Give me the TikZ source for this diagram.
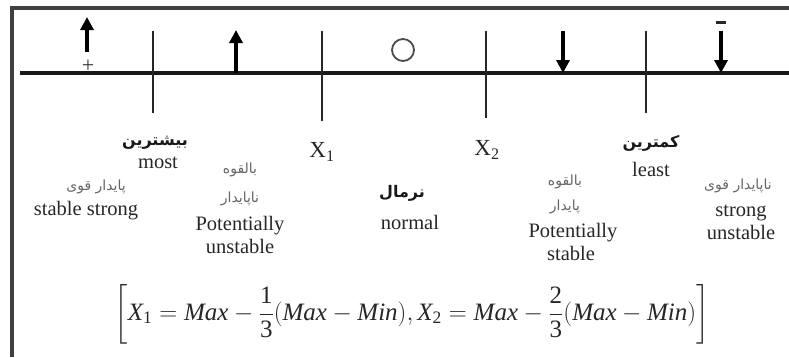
\documentclass[tikz,border=0pt]{standalone}
\usepackage{amsmath}
\usepackage{fontspec}
\setmainfont{Liberation Serif}
\newfontfamily\fa[Script=Arabic]{DejaVu Sans}
\TeXXeTstate=1
\usetikzlibrary{arrows.meta}
\newcommand{\ti}[1]{\text{\itshape #1}}
\newcommand{\tr}[1]{\text{\upshape #1}}
\begin{document}
\begin{tikzpicture}[x=1pt,y=-1pt,
 en/.style={font=\fontsize{20.5}{20.5}\selectfont, text=black!85, inner sep=0pt},
 fa/.style={font=\fa\fontsize{14}{14}\selectfont, text=black!60, inner sep=0pt},
 fab/.style={font=\fa\bfseries\fontsize{16}{16}\selectfont, text=black!90, inner sep=0pt},
 xlab/.style={font=\fontsize{23}{23}\selectfont, text=black!85, inner sep=0pt},
 tickline/.style={line width=2.3pt, draw=black!85},
 arr/.style={line width=3.4pt, draw=black, -{Triangle[length=13pt,width=13pt]}},
]
\useasboundingbox (0,0) rectangle (789,357);
% frame
\coordinate (fTR) at (789,8);
\coordinate (fTL) at (12,8);
\coordinate (fBL) at (12,357);
\draw[line width=3.2pt, black!75] (fTR) -- (fTL) -- (fBL);
% axis
\coordinate (axL) at (20,73);
\coordinate (axR) at (789,73);
\draw[line width=3.4pt, black!90] (axL) -- (axR);
% ticks
\coordinate (t1a) at (153,31); \coordinate (t1b) at (153,113);
\coordinate (t2a) at (322,31); \coordinate (t2b) at (322,121);
\coordinate (t3a) at (486,31); \coordinate (t3b) at (486,118);
\coordinate (t4a) at (646,31); \coordinate (t4b) at (646,113);
\draw[tickline] (t1a) -- (t1b);
\draw[tickline] (t2a) -- (t2b);
\draw[tickline] (t3a) -- (t3b);
\draw[tickline] (t4a) -- (t4b);
% arrows
\coordinate (a1s) at (87,52); \coordinate (a1e) at (87,17);
\coordinate (a2s) at (236,73); \coordinate (a2e) at (236,30);
\coordinate (a3s) at (563,31); \coordinate (a3e) at (563,73);
\coordinate (a4s) at (721,31); \coordinate (a4e) at (721,73);
\draw[arr] (a1s) -- (a1e);
\draw[arr] (a2s) -- (a2e);
\draw[arr] (a3s) -- (a3e);
\draw[arr] (a4s) -- (a4e);
\node[font=\fontsize{22}{22}\selectfont, text=black!80, inner sep=0pt] (plus) at (88,66) {+};
\coordinate (mL) at (716,22); \coordinate (mR) at (726,22);
\draw[line width=3pt, black!85] (mL) -- (mR);
\node[circle, draw=black!70, line width=1.8pt, minimum size=22pt, inner sep=0pt] (circ) at (403,50) {};
% labels
\node[fab] (most-fa) at (155,143) {\beginR بیشترین\endR};
\node[en] (most) at (158,163) {most};
\node[fa] (ss-fa) at (96,187) {\beginR پایدار قوی\endR};
\node[en] (ss) at (86,211) {stable strong};
\node[fa] (pu-fa1) at (240,170) {\beginR بالقوه\endR};
\node[fa] (pu-fa2) at (240,199) {\beginR ناپایدار\endR};
\node[en] (pu1) at (240,226) {Potentially};
\node[en] (pu2) at (240,246) {unstable};
\node[xlab] (x1) at (322,152) {X\textsubscript{1}};
\node[fab] (nr-fa) at (402,193) {\beginR نرمال\endR};
\node[en] (nr) at (410,222) {normal};
\node[xlab] (x2) at (487,150) {X\textsubscript{2}};
\node[fa] (ps-fa1) at (565,182) {\beginR بالقوه\endR};
\node[fa] (ps-fa2) at (565,207) {\beginR پایدار\endR};
\node[en] (ps1) at (573,233) {Potentially};
\node[en] (ps2) at (571,253) {stable};
\node[fab] (least-fa) at (651,143) {\beginR کمترین\endR};
\node[en] (least) at (651,169) {least};
\node[fa] (su-fa) at (738,186) {\beginR ناپایدار قوی\endR};
\node[en] (su1) at (741,213) {strong};
\node[en] (su2) at (741,232) {unstable};
% formula
\node[font=\fontsize{25}{25}\selectfont, text=black!85, inner sep=0pt] (formula) at (412,314)
 {$\left[\ti{X}_{\tr{1}}=\ti{Max}-\dfrac{\tr{1}}{\tr{3}}(\ti{Max}-\ti{Min}),\ti{X}_{\tr{2}}=\ti{Max}-\dfrac{\tr{2}}{\tr{3}}(\ti{Max}-\ti{Min})\right]$};
\end{tikzpicture}
\end{document}
